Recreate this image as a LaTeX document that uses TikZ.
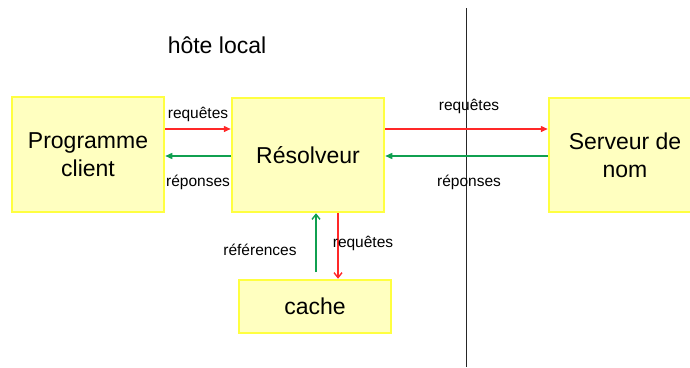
\documentclass[tikz,border=0pt]{standalone}
\usepackage{fontspec}
\setmainfont{Liberation Sans}
\usetikzlibrary{arrows.meta}

\definecolor{boxfill}{HTML}{FFFFC0}
\definecolor{boxline}{HTML}{FFFF40}
\definecolor{reqred}{HTML}{FF2828}
\definecolor{repgreen}{HTML}{10A050}

\tikzset{
  bloc/.style={draw=boxline, fill=boxfill, line width=2.5pt, align=center,
    font=\fontsize{23}{28}\selectfont, inner sep=0pt},
  lbl/.style={font=\fontsize{15.5}{18}\selectfont, inner sep=0pt},
  req/.style={draw=reqred, line width=1.4pt},
  rep/.style={draw=repgreen, line width=1.4pt}
}

\begin{document}
\begin{tikzpicture}[x=1pt, y=-1pt]

  \useasboundingbox (0,0) rectangle (690,367);

  % Blocks
  \node[bloc, minimum width=152pt, minimum height=115pt] (client) at (88,154.5) {Programme\\client};
  \node[bloc, minimum width=152pt, minimum height=114pt] (resolv) at (308,155) {Résolveur};
  \node[bloc, minimum width=152pt, minimum height=114pt] (serveur) at (625,155) {Serveur de\\nom};
  \node[bloc, minimum width=152pt, minimum height=53pt] (cache) at (315,306.5) {cache};

  % Title and border of the host
  \node[font=\fontsize{23}{28}\selectfont, inner sep=0pt] (hote) at (217,45) {hôte local};
  \draw[line width=1pt, black!85] (466.7,8) -- (466.7,367);

  % Arrows
  \draw[req, -{Triangle[length=7pt, width=6pt]}] (client.east |- 0,129) -- (resolv.west |- 0,129);
  \draw[rep, -{Triangle[length=7pt, width=6pt]}] (resolv.west |- 0,156) -- (client.east |- 0,156);
  \draw[req, -{Triangle[length=7pt, width=6pt]}] (resolv.east |- 0,129) -- (serveur.west |- 0,129);
  \draw[rep, -{Triangle[length=7pt, width=6pt]}] (serveur.west |- 0,156) -- (resolv.east |- 0,156);
  \draw[rep, -{Straight Barb[length=5pt, width=8pt]}] (316,272) -- (resolv.south -| 316,0);
  \draw[req, -{Straight Barb[length=5pt, width=8pt]}] (resolv.south -| 338,0) -- (cache.north -| 338,0);

  % Labels
  \node[lbl] (req1) at (198,114) {requêtes};
  \node[lbl] (rep1) at (198,182) {réponses};
  \node[lbl] (req2) at (469,106) {requêtes};
  \node[lbl] (rep2) at (469,182) {réponses};
  \node[lbl] (refs) at (260,250) {références};
  \node[lbl] (req3) at (363,243) {requêtes};

\end{tikzpicture}
\end{document}
